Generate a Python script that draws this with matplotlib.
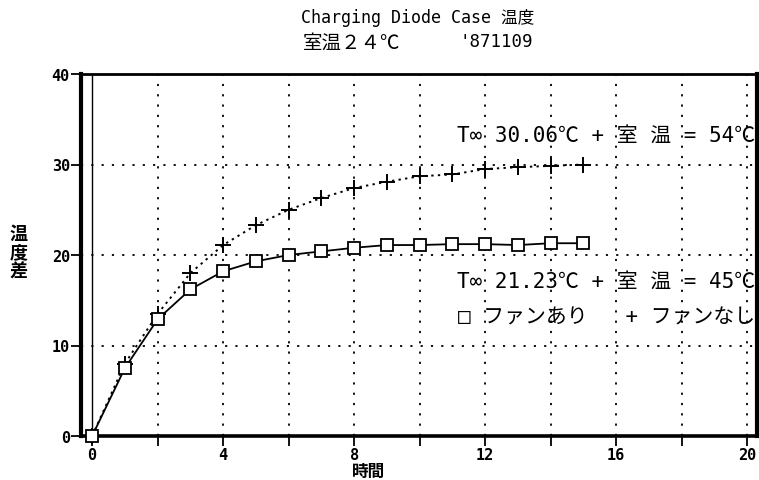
import matplotlib
matplotlib.use("Agg")
import matplotlib.pyplot as plt

# Data
hours = [0, 1, 2, 3, 4, 5, 6, 7, 8, 9, 10, 11, 12, 13, 14, 15]
fan_on = [0, 7.5, 12.9, 16.2, 18.2, 19.3, 20.0, 20.4, 20.8, 21.1, 21.1, 21.2, 21.2, 21.1, 21.3, 21.3]
fan_off = [0, 8.0, 13.5, 18.0, 21.1, 23.3, 25.0, 26.3, 27.4, 28.1, 28.7, 28.9, 29.5, 29.7, 29.85, 30.0]
x_ticks = [0, 2, 4, 6, 8, 10, 12, 14, 16, 18, 20]
x_labels = ["0", "", "4", "", "8", "", "12", "", "16", "", "20"]
y_ticks = [0, 10, 20, 30, 40]
y_label_chars = ["温", "度", "差"]

W, H = 759, 481
fig = plt.figure(figsize=(W / 100, H / 100), dpi=100)
ax = fig.add_axes([81 / W, 1 - 437 / H, (757 - 81) / W, (437 - 75) / H])

mono = ["DejaVu Sans Mono", "Noto Sans CJK JP"]
cjk = ["Noto Sans CJK JP", "DejaVu Sans"]

ax.set_xlim(-0.34, 20.3)
ax.set_ylim(0, 40)

# grid
for xv in x_ticks[1:]:
    ax.axvline(xv, color="black", lw=1.3, ls=(0, (1.2, 4.5)), zorder=1)
for yv in [10, 20, 30]:
    ax.axhline(yv, color="black", lw=1.3, ls=(0, (1.2, 4.5)), zorder=1)
ax.axvline(0, color="black", lw=1.0, zorder=2)

ax.plot(hours, fan_off, color="black", lw=1.4, ls=(0, (1.2, 2.2)), marker="+",
        ms=11, mew=1.4, clip_on=False, zorder=3)
ax.plot(hours, fan_on, color="black", lw=1.3, ls="-", marker="s", ms=8,
        mfc="white", mec="black", mew=1.3, clip_on=False, zorder=4)

ax.set_xticks(x_ticks)
ax.set_xticklabels(x_labels)
ax.set_yticks(y_ticks)
ax.tick_params(direction="out", length=7, width=1.3, colors="black", pad=1)
for lab in ax.get_xticklabels() + ax.get_yticklabels():
    lab.set_family(mono)
    lab.set_fontweight("bold")
    lab.set_fontsize(11)

for side, lw in [("left", 3.0), ("bottom", 2.6), ("right", 3.0), ("top", 2.0)]:
    ax.spines[side].set_linewidth(lw)
    ax.spines[side].set_color("black")

# titles
fig.text(418 / W, 1 - 18 / H, "Charging Diode Case 温度", ha="center", va="center",
         family=mono, fontsize=12)
fig.text(303 / W, 1 - 43 / H, "室温２４℃", ha="left", va="center", family=cjk, fontsize=14)
fig.text(460 / W, 1 - 42 / H, "'871109", ha="left", va="center", family=mono, fontsize=12.5)

# axis labels
for i, ch in enumerate(y_label_chars):
    fig.text(19 / W, 1 - (234 + i * 19) / H, ch, ha="center", va="center", family=cjk,
             fontsize=13, fontweight="bold")
fig.text(369 / W, 1 - 472 / H, "時間", ha="center", va="center", family=cjk,
         fontsize=12, fontweight="bold")

# annotations
fig.text(755 / W, 1 - 136 / H, "T∞ 30.06℃ + 室 温 = 54℃", ha="right", va="center",
         family=mono, fontsize=15)
fig.text(755 / W, 1 - 282 / H, "T∞ 21.23℃ + 室 温 = 45℃", ha="right", va="center",
         family=mono, fontsize=15)
fig.text(755 / W, 1 - 318 / H, "□ ファンあり   + ファンなし", ha="right", va="center",
         family=mono, fontsize=15)

fig.savefig("out.png", dpi=100, facecolor="white")
